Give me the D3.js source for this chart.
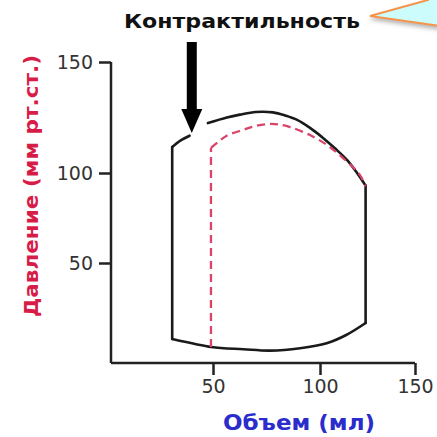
<!DOCTYPE html>
<head>
<meta charset="utf-8">
<script src="https://d3js.org/d3.v7.min.js"></script>
<style>
body { margin:0; background:#fff; }
text { font-family: "DejaVu Sans", "Liberation Sans", Arial, sans-serif; }
</style>
</head>
<body>
<script>

// axis ticks
var tickValues = [50, 100, 150];
var tickLabels = ["50", "100", "150"];

// solid loop (volume ml, pressure mmHg), split into pieces
var solidTop = [[47.5,122.5],[56.5,125],[62.6,126.3],[70,127.5],[78,127.3],[84,125.8],[89.3,123.9],[95.5,120.2],[101.6,115.8],[108,111],[114.2,105.9],[119.5,100],[124,93]];
var solidRight = [[124,93],[124,20]];
var solidBottom = [[124,20],[113.8,14],[103.5,9.9],[90.7,7.4],[76.6,6.2],[64.2,6.9],[49,8],[30,12]];
var solidLeft = [[30,12],[30,111.7]];
var solidStub = [[30,111.7],[34,114.6],[38.5,116.8]];

// dashed loop (higher contractility)
var dashedLeft = [[49,8],[49,111.3]];
var dashedTop = [[49,111.3],[53,114.5],[56.4,116.8],[64,119.4],[70,121.2],[76.6,122.1],[81,121.8],[86,120.7],[95.3,117.1],[103.7,112.6],[112,106.8],[120.9,99.1],[124,92.5]];

// arrow: volume position, pressure from / to
var arrowV = 39.6, arrowFrom = 159, arrowTo = 118;

var width = 437, height = 437;

var svg = d3.select("body").append("svg")
    .attr("width", width)
    .attr("height", height);

// the drawing is not evenly spaced, so map through its own tick positions
var x = d3.scaleLinear()
    .domain([0, 50, 100, 150])
    .range([111, 213, 320, 415]);

var y = d3.scaleLinear()
    .domain([0, 50, 100, 150])
    .range([363, 263, 173, 62]);

var defs = svg.append("defs");
var f = defs.append("filter").attr("id", "sh").attr("x", "-20%").attr("y", "-50%").attr("width", "150%").attr("height", "250%");
f.append("feDropShadow").attr("dx", 1).attr("dy", 3).attr("stdDeviation", 2).attr("flood-color", "#888").attr("flood-opacity", 0.6);

// callout in the corner
svg.append("path")
    .attr("d", "M370,16 L428,0 L428,-30 L470,-30 L470,40 L440,26 Z")
    .attr("fill", "#ccfcfc")
    .attr("stroke", "#f4954a")
    .attr("stroke-width", 2)
    .attr("filter", "url(#sh)");

// title
svg.append("text")
    .attr("x", 242)
    .attr("y", 28)
    .attr("text-anchor", "middle")
    .attr("textLength", 236)
    .attr("lengthAdjust", "spacingAndGlyphs")
    .style("font-size", "20px")
    .style("font-weight", "bold")
    .attr("fill", "#111")
    .text("Контрактильность");

// axes
var axisColor = "#222";
var gy = svg.append("g").attr("transform", "translate(" + x(0) + ",0)")
    .call(d3.axisLeft(y).tickValues(tickValues).tickFormat(function(d, i) { return tickLabels[i]; }).tickSize(12).tickSizeOuter(0).tickPadding(6));
var gx = svg.append("g").attr("transform", "translate(0," + y(0) + ")")
    .call(d3.axisBottom(x).tickValues(tickValues).tickFormat(function(d, i) { return tickLabels[i]; }).tickSize(12).tickSizeOuter(0).tickPadding(5));

[gx, gy].forEach(function(g) {
  g.select(".domain").attr("stroke", axisColor).attr("stroke-width", 2.5);
  g.selectAll(".tick line").attr("stroke", axisColor).attr("stroke-width", 2.5);
  g.selectAll(".tick text")
    .attr("fill", "#333")
    .style("font-size", "19px")
    .style("font-family", "DejaVu Sans, Arial, sans-serif");
});
gy.select(".domain").attr("d", "M0," + y(150) + "V" + y(0));
gx.select(".domain").attr("d", "M" + x(0) + ",0H" + x(150));

// axis titles
svg.append("text")
    .attr("transform", "translate(31," + 186 + ") rotate(-90)")
    .attr("text-anchor", "middle")
    .attr("dy", "0.35em")
    .attr("textLength", 262)
    .attr("lengthAdjust", "spacingAndGlyphs")
    .style("font-size", "19px")
    .style("font-weight", "bold")
    .attr("fill", "#d81c48")
    .text("Давление (мм рт.ст.)");

svg.append("text")
    .attr("x", 299)
    .attr("y", 430)
    .attr("text-anchor", "middle")
    .attr("textLength", 152)
    .attr("lengthAdjust", "spacingAndGlyphs")
    .style("font-size", "21px")
    .style("font-weight", "bold")
    .attr("fill", "#2a2ccc")
    .text("Объем (мл)");

// loops
var curved = d3.line().x(function(d) { return x(d[0]); }).y(function(d) { return y(d[1]); }).curve(d3.curveCatmullRom);
var straight = d3.line().x(function(d) { return x(d[0]); }).y(function(d) { return y(d[1]); });

var loopColor = "#1a1a1a";
[[solidTop, curved], [solidRight, straight], [solidBottom, curved], [solidLeft, straight], [solidStub, curved]].forEach(function(s) {
  svg.append("path")
      .attr("d", s[1](s[0]))
      .attr("fill", "none")
      .attr("stroke", loopColor)
      .attr("stroke-width", 2.6)
      .attr("stroke-linecap", "round")
      .attr("stroke-linejoin", "round");
});

[[dashedLeft, straight], [dashedTop, curved]].forEach(function(s) {
  svg.append("path")
      .attr("d", s[1](s[0]))
      .attr("fill", "none")
      .attr("stroke", "#d94468")
      .attr("stroke-width", 2.3)
      .attr("stroke-dasharray", "8,5");
});

// arrow
var ax = x(arrowV), ay0 = y(arrowFrom), ay1 = y(arrowTo);
svg.append("path")
    .attr("d", "M" + (ax - 5) + "," + ay0 + "V" + (ay1 - 24) + "H" + (ax - 10.5) + "L" + ax + "," + ay1 + "L" + (ax + 10.5) + "," + (ay1 - 24) + "H" + (ax + 5) + "V" + ay0 + "Z")
    .attr("fill", "#000");

</script>
</body>
